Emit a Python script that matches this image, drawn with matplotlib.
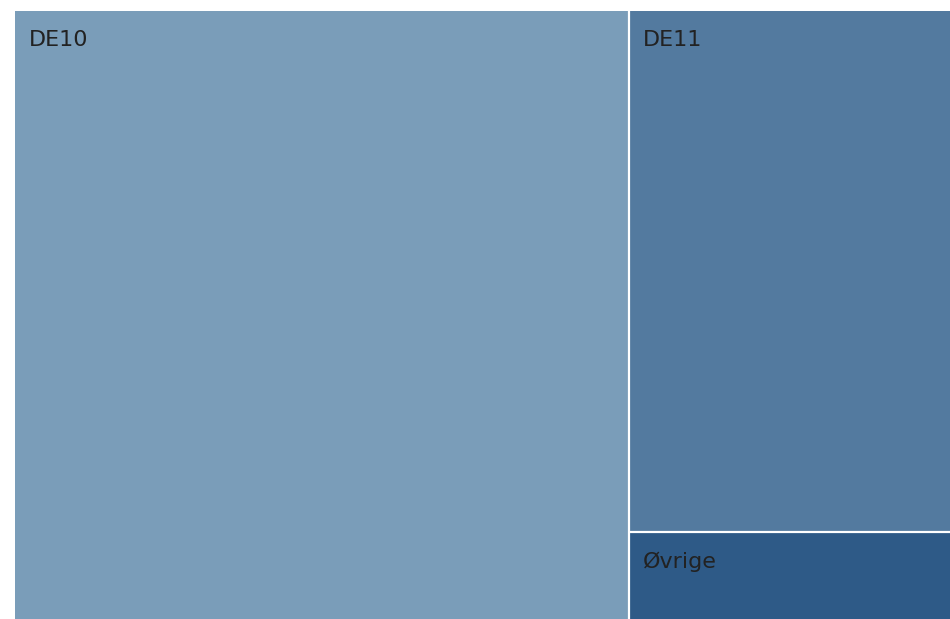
import numpy as np
import matplotlib
matplotlib.use("Agg")
import matplotlib.pyplot as plt
from matplotlib.patches import Rectangle

labels = ["DE10", "DE11", "Øvrige"]
values = [65.7, 29.4, 4.9]
colors = ["#7a9db9", "#537a9f", "#2e5a87"]

fig = plt.figure(figsize=(9.5, 6.19), dpi=100)
ax = fig.add_axes([15 / 950, 0, 1 - 15 / 950, 1 - 11 / 619])
ax.set_xlim(0, 1); ax.set_ylim(1, 0); ax.axis("off")

total = sum(values)
W_PX, H_PX = 935, 608

# first tile spans full height on the left, the rest stack on the right
rects = []
w0 = values[0] / total
rects.append((0, 0, w0, 1))
rest = sum(values[1:])
y = 0
for v in values[1:]:
    h = v / rest
    rects.append((w0, y, 1 - w0, h))
    y += h

for (x, y, w, h), lab, c in zip(rects, labels, colors):
    ax.add_patch(Rectangle((x, y), w, h, facecolor=c, edgecolor="none"))
    # white gaps only between tiles, not along the outer border
    if x > 0:
        ax.plot([x, x], [y, y + h], color="white", lw=1.6, solid_capstyle="butt")
    if y > 0:
        ax.plot([x, x + w], [y, y], color="white", lw=1.6, solid_capstyle="butt")
    ax.text(x + 14 / W_PX, y + 19 / H_PX, lab, fontsize=16, color="#222222",
            ha="left", va="top", family="DejaVu Sans")

fig.savefig("out.png", dpi=100)
